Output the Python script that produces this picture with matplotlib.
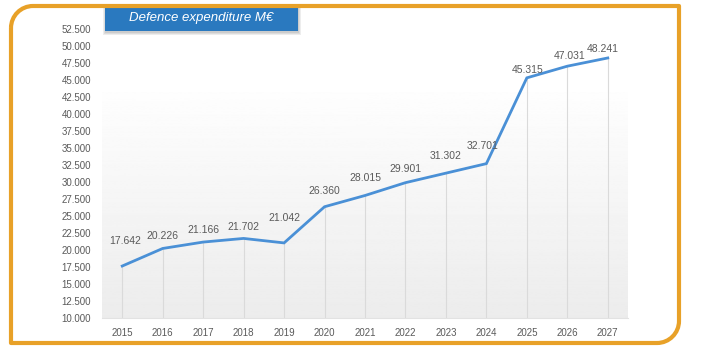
import numpy as np
import matplotlib

matplotlib.use("Agg")
import matplotlib.pyplot as plt  # noqa: E402
from matplotlib.path import Path  # noqa: E402
from matplotlib.patches import PathPatch, Rectangle  # noqa: E402
from matplotlib.ticker import FuncFormatter  # noqa: E402

plt.rcParams["font.family"] = ["Liberation Sans", "DejaVu Sans"]

# data (M EUR)
years = [2015, 2016, 2017, 2018, 2019, 2020, 2021, 2022, 2023, 2024, 2025, 2026, 2027]
spend = [17642, 20226, 21166, 21702, 21042, 26360, 28015, 29901, 31302, 32701, 45315, 47031, 48241]
y_ticks = list(range(10000, 52501, 2500))
title = "Defence expenditure M€"

# label offsets (px) above each point, Excel-style placement
label_dy = [25, 12, 12, 11, 25, 16, 17, 14, 17, 18, 8, 10, 9]
label_dx = [3, 0, 0, 0, 0, 0, 0, 0, 0, -4, 1, 2, -5]

W, H = 707, 357
LINE = "#4a90d6"
TXT = "#5a5a5a"
ORANGE = "#e8a128"


def eu(v):
    return f"{int(v):,}".replace(",", ".")


def fx(px):
    return px / W


def fy(py):
    return 1 - py / H


fig = plt.figure(figsize=(W / 100, H / 100), dpi=100)
fig.patch.set_facecolor("white")

ax = fig.add_axes([fx(102), fy(318), fx(628) - fx(102), fy(29) - fy(318)])
ax.set_facecolor("none")

# light gray gradient in the plot area, fading out towards the top
grad = np.linspace(0.925, 0.995, 256).reshape(-1, 1)
ax.imshow(grad, cmap="gray", vmin=0, vmax=1, aspect="auto", origin="lower",
          extent=[0, 1, 0, 0.78], transform=ax.transAxes, zorder=0)

ax.set_xlim(2014.5, 2027.5)
ax.set_ylim(10000, 52500)

# drop lines from axis up to each point
ax.vlines(years, 10000, spend, color="#dadada", lw=0.8, zorder=1)
ax.plot(years, spend, color=LINE, lw=2, solid_joinstyle="miter", zorder=3)

for x, v, dy, dx in zip(years, spend, label_dy, label_dx):
    ax.annotate(eu(v), (x, v), xytext=(dx * 0.72, dy * 0.72), textcoords="offset points",
                ha="center", va="center", fontsize=7.5, color=TXT, zorder=4)

ax.set_xticks(years)
ax.set_yticks(y_ticks)
ax.yaxis.set_major_formatter(FuncFormatter(lambda v, _: eu(v)))
ax.tick_params(length=0, labelsize=7, labelcolor=TXT)
ax.tick_params(axis="y", pad=8)
ax.tick_params(axis="x", pad=7)
for side in ("top", "right", "left"):
    ax.spines[side].set_visible(False)
ax.spines["bottom"].set_color("#e2e2e2")
ax.spines["bottom"].set_linewidth(0.8)

# title box with a soft shadow (a few stacked translucent layers)
for grow in (3, 2, 1):
    sh = Rectangle((fx(105 - grow + 1), fy(32 + grow)), fx(298 + grow) - fx(105 - grow + 1),
                   fy(8) - fy(32 + grow), transform=fig.transFigure, facecolor="#000000",
                   alpha=0.07, edgecolor="none", zorder=5)
    fig.patches.append(sh)
box = Rectangle((fx(105), fy(31)), fx(298) - fx(105), fy(6) - fy(31),
                transform=fig.transFigure, facecolor="#2a79bf", edgecolor="none", zorder=6)
fig.patches.append(box)
fig.text(fx(201), fy(18), title, color="white", fontsize=9.5, style="italic",
         ha="center", va="center", zorder=7)

# orange frame: rounded top-left and bottom-right corners
L, R, T, B, r = 11, 679, 6, 343, 22
k = 0.5523 * r
pts = [
    (L, T + r), (L, B), (R - r, B),
    (R - r + k, B), (R, B - r + k), (R, B - r),
    (R, T), (L + r, T),
    (L + r - k, T), (L, T + r - k), (L, T + r),
]
codes = [Path.MOVETO, Path.LINETO, Path.LINETO,
         Path.CURVE4, Path.CURVE4, Path.CURVE4,
         Path.LINETO, Path.LINETO,
         Path.CURVE4, Path.CURVE4, Path.CURVE4]
frame = PathPatch(Path([(fx(a), fy(b)) for a, b in pts], codes), transform=fig.transFigure,
                  facecolor="none", edgecolor=ORANGE, lw=3, joinstyle="round", zorder=8)
fig.patches.append(frame)

fig.savefig("out.png", dpi=100)
